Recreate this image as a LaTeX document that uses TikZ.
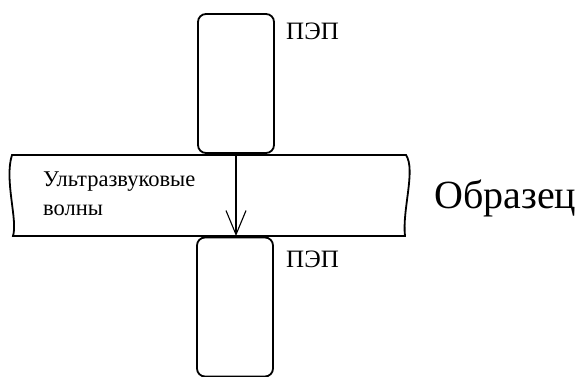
\documentclass[tikz,border=0pt]{standalone}
\usepackage{fontspec}
\setmainfont{Liberation Serif}
\usetikzlibrary{arrows.meta}
\begin{document}
\begin{tikzpicture}[x=1pt,y=-1pt,
  pep/.style={draw,line width=1.8pt,rounded corners=8pt,minimum width=76pt,minimum height=139pt,inner sep=0pt},
  lbl/.style={anchor=base west,inner sep=0pt,font=\fontsize{22.5}{24}\selectfont},
  peplbl/.style={anchor=base west,inner sep=0pt,font=\fontsize{25}{27}\selectfont}]
\useasboundingbox (0,0) rectangle (579,377);
\node[pep] (top) at (236,83.5) {};
\node[pep] (bot) at (235,307) {};
% specimen band
\draw[line width=1.8pt]
  (12,155) coordinate (bl) -- (406,155)
  .. controls (416,170) and (402,210) .. (405,236) -- (13,236)
  .. controls (18,220) and (4,180) .. (12,155) -- cycle;
\coordinate (hit) at (top.south |- 0,236);
\draw[line width=1.1pt,-{Straight Barb[length=24pt,width=20pt,line width=1.1pt]}] (top.south) -- (hit);
\node[peplbl] (p1) at (286,40) {ПЭП};
\node[peplbl] (p2) at (286,268) {ПЭП};
\node[lbl] (u1) at (43,187) {Ультразвуковые};
\node[lbl] (u2) at (43,215) {волны};
\node[lbl,font=\fontsize{40}{44}\selectfont] (obr) at (434,209) {Образец};
\end{tikzpicture}
\end{document}
